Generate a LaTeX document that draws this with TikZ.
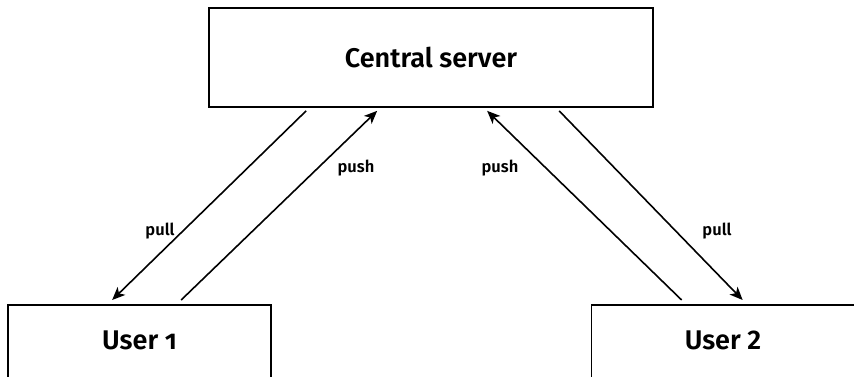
\documentclass[tikz,border=0pt]{standalone}
\usepackage{fontspec}
\setmainfont{Fira Sans}[BoldFont={Fira Sans SemiBold}]
\usetikzlibrary{arrows.meta}
\begin{document}
\begin{tikzpicture}[x=1pt,y=-1pt,
  box/.style={draw,line width=1.7pt,inner sep=0pt,font=\fontsize{27}{31}\selectfont\bfseries},
  userbox/.style={box,anchor=north,minimum width=263pt,text height=45pt,text depth=35pt},
  link/.style={line width=1.6pt,-{Stealth[length=13pt,width=11pt,inset=3.5pt]}},
  lbl/.style={font=\fontsize{16.5}{19}\selectfont\bfseries,inner sep=0pt}]
  \useasboundingbox (0,0) rectangle (854,376);
  \clip (0,0) rectangle (854,376);

  \node[box,minimum width=444pt,minimum height=99pt] (server) at (431,57.5) {Central server};
  \node[userbox] (user1) at (139.5,304) {User {\addfontfeature{Numbers=OldStyle}1}};
  \node[userbox] (user2) at (723,304) {User 2};

  % user 1 <-> server
  \draw[link] ([xshift=98pt,yshift=-3pt]server.south west) -- ([xshift=105pt,yshift=4pt]user1.north west);
  \draw[link] ([xshift=174pt,yshift=4pt]user1.north west) -- ([xshift=169pt,yshift=-3pt]server.south west);
  % user 2 <-> server
  \draw[link] ([xshift=91pt,yshift=4pt]user2.north west) -- ([xshift=279pt,yshift=-3pt]server.south west);
  \draw[link] ([xshift=351pt,yshift=-3pt]server.south west) -- ([xshift=152pt,yshift=4pt]user2.north west);

  \node[lbl] (pull1) at (160,231) {pull};
  \node[lbl] (push1) at (356,168) {push};
  \node[lbl] (push2) at (500,168) {push};
  \node[lbl] (pull2) at (717,231) {pull};
\end{tikzpicture}
\end{document}
